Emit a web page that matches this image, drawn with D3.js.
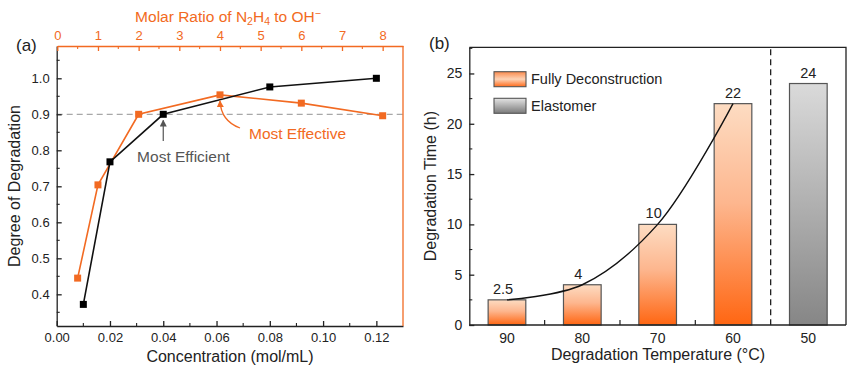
<!DOCTYPE html>
<html><head><meta charset="utf-8">
<script src="https://cdn.jsdelivr.net/npm/d3@7"></script>
<style>
body{margin:0;background:#fff;}
svg{font-family:"Liberation Sans",Arial,sans-serif;}
</style></head>
<body>
<svg id="c" width="860" height="369"></svg>
<script>
// ---- Data panel (a)
const concentration = [0.01, 0.02, 0.04, 0.08, 0.12];
const degreeByConc = [0.372, 0.768, 0.900, 0.976, 1.0];
const molarRatio = [0.5, 1, 2, 4, 6, 8];
const degreeByRatio = [0.445, 0.704, 0.900, 0.954, 0.931, 0.896];
const concTicks = [0, 0.02, 0.04, 0.06, 0.08, 0.10, 0.12];
const ratioTicks = [0, 1, 2, 3, 4, 5, 6, 7, 8];
const degreeTicks = [0.4, 0.5, 0.6, 0.7, 0.8, 0.9, 1.0];
const thresholdLine = 0.9;
// ---- Data panel (b)
const temperatures = ["90", "80", "70", "60", "50"];
const times = [2.5, 4, 10, 22, 24];
const barType = ["Fully Deconstruction", "Fully Deconstruction", "Fully Deconstruction", "Fully Deconstruction", "Elastomer"];
const legendItems = ["Fully Deconstruction", "Elastomer"];
const timeTicks = [0, 5, 10, 15, 20, 25];

const ORANGE = "#f26a22";
const svg = d3.select("#c");

// gradients
const defs = svg.append("defs");
function grad(id, stops){
  const g = defs.append("linearGradient").attr("id", id).attr("x1",0).attr("y1",0).attr("x2",0).attr("y2",1);
  stops.forEach(s => g.append("stop").attr("offset", s[0]).attr("stop-color", s[1]));
}
grad("gO", [[0,"#fddcc2"],[0.45,"#fdb68e"],[1,"#ff6612"]]);
grad("gG", [[0,"#dadada"],[1,"#868686"]]);
grad("gOL", [[0,"#fb8a4c"],[0.5,"#fdd3b6"],[1,"#ff6a1a"]]);
grad("gGL", [[0,"#e4e4e4"],[1,"#7a7a7a"]]);

// ================= Panel (a)
const A = {l:56.7, r:403, t:46, b:326};
const x = d3.scaleLinear().domain([0, 0.13]).range([A.l, A.r]);
const xr = d3.scaleLinear().domain([0, 8.5]).range([57.3, A.r]);
const y = d3.scaleLinear().domain([0.312, 1.0897]).range([A.b, A.t]);
const ga = svg.append("g");

// dashed threshold
ga.append("line").attr("x1", A.l).attr("x2", A.r).attr("y1", y(thresholdLine)).attr("y2", y(thresholdLine))
  .attr("stroke", "#a8a8a8").attr("stroke-width", 1.3).attr("stroke-dasharray", "6,4");

// axes
const fontTick = "13px";
const axB = ga.append("g").attr("transform", `translate(0,${A.b})`)
  .call(d3.axisBottom(x).tickValues(concTicks).tickFormat(d3.format(".2f")).tickSizeInner(-5).tickSizeOuter(0).tickPadding(7));
const axL = ga.append("g").attr("transform", `translate(${A.l},0)`)
  .call(d3.axisLeft(y).tickValues(degreeTicks).tickFormat(d3.format(".1f")).tickSizeInner(-5).tickSizeOuter(0).tickPadding(7));
const axT = ga.append("g").attr("transform", `translate(0,${A.t})`)
  .call(d3.axisTop(xr).tickValues(ratioTicks).tickFormat(d3.format("d")).tickSizeInner(-5).tickSizeOuter(0).tickPadding(6));
[axB, axL].forEach(a => { a.selectAll("path,line").attr("stroke", "#222").attr("stroke-width", 1.3); a.selectAll("text").attr("font-size", fontTick).attr("fill", "#222"); });
axT.selectAll("path,line").attr("stroke", ORANGE).attr("stroke-width", 1.3);
axT.selectAll("text").attr("font-size", fontTick).attr("fill", ORANGE);
// right border
ga.append("line").attr("x1", A.r).attr("x2", A.r).attr("y1", A.t).attr("y2", A.b).attr("stroke", ORANGE).attr("stroke-width", 1.3);
// minor ticks
const minorConc = d3.range(0.01, 0.13, 0.02);
ga.selectAll(".mb").data(minorConc).join("line").attr("x1", d => x(d)).attr("x2", d => x(d)).attr("y1", A.b).attr("y2", A.b - 3).attr("stroke", "#222").attr("stroke-width", 1.1);
const minorDeg = [0.35, 0.45, 0.55, 0.65, 0.75, 0.85, 0.95, 1.05];
ga.selectAll(".ml").data(minorDeg).join("line").attr("y1", d => y(d)).attr("y2", d => y(d)).attr("x1", A.l).attr("x2", A.l + 3).attr("stroke", "#222").attr("stroke-width", 1.1);
const minorRatio = d3.range(0.5, 8.5, 1);
ga.selectAll(".mt").data(minorRatio).join("line").attr("x1", d => xr(d)).attr("x2", d => xr(d)).attr("y1", A.t).attr("y2", A.t + 3).attr("stroke", ORANGE).attr("stroke-width", 1.1);

// series lines
const ptsConc = concentration.map((c, i) => [x(c), y(degreeByConc[i])]);
const ptsRatio = molarRatio.map((r, i) => [xr(r), y(degreeByRatio[i])]);
const line = d3.line();
ga.append("path").attr("d", line(ptsRatio)).attr("fill", "none").attr("stroke", ORANGE).attr("stroke-width", 1.6);
ga.append("path").attr("d", line(ptsConc)).attr("fill", "none").attr("stroke", "#111").attr("stroke-width", 1.6);
const ms = 7;
ga.selectAll(".po").data(ptsRatio).join("rect").attr("x", d => d[0] - ms/2).attr("y", d => d[1] - ms/2).attr("width", ms).attr("height", ms).attr("fill", ORANGE);
ga.selectAll(".pk").data(ptsConc).join("rect").attr("x", d => d[0] - ms/2).attr("y", d => d[1] - ms/2).attr("width", ms).attr("height", ms).attr("fill", "#000");

// annotations
defs.append("marker").attr("id", "arG").attr("viewBox", "0 0 10 10").attr("refX", 9).attr("refY", 5)
  .attr("markerWidth", 7).attr("markerHeight", 7).attr("markerUnits", "userSpaceOnUse").attr("orient", "auto")
  .append("path").attr("d", "M0,0 L10,5 L0,10 z").attr("fill", "#555");
defs.append("marker").attr("id", "arO").attr("viewBox", "0 0 10 10").attr("refX", 9).attr("refY", 5)
  .attr("markerWidth", 7).attr("markerHeight", 7).attr("markerUnits", "userSpaceOnUse").attr("orient", "auto")
  .append("path").attr("d", "M0,0 L10,5 L0,10 z").attr("fill", ORANGE);
const effX = x(concentration[2]);
ga.append("line").attr("x1", effX).attr("x2", effX).attr("y1", 141).attr("y2", y(0.9) + 6)
  .attr("stroke", "#555").attr("stroke-width", 1.2).attr("marker-end", "url(#arG)");
ga.append("text").attr("x", 183.5).attr("y", 161.5).attr("text-anchor", "middle").attr("font-size", "15.5px").attr("fill", "#555").text("Most Efficient");
const bestX = xr(molarRatio[3]);
ga.append("path").attr("d", `M240,128 Q${bestX + 1},121 ${bestX},${y(0.954) + 6}`).attr("fill", "none")
  .attr("stroke", ORANGE).attr("stroke-width", 1.3).attr("marker-end", "url(#arO)");
ga.append("text").attr("x", 297.5).attr("y", 138.5).attr("text-anchor", "middle").attr("font-size", "15.5px").attr("fill", ORANGE).text("Most Effective");

// titles
ga.append("text").attr("x", 230).attr("y", 362).attr("text-anchor", "middle").attr("font-size", "16px").attr("fill", "#222").text("Concentration (mol/mL)");
ga.append("text").attr("transform", `translate(20,${(A.t + A.b) / 2}) rotate(-90)`).attr("text-anchor", "middle").attr("font-size", "16px").attr("fill", "#222").text("Degree of Degradation");
const tt = ga.append("text").attr("x", 228).attr("y", 22).attr("text-anchor", "middle").attr("font-size", "15.5px").attr("fill", ORANGE);
tt.append("tspan").text("Molar Ratio of N");
tt.append("tspan").attr("font-size", "10.5px").attr("dy", 3).text("2");
tt.append("tspan").attr("dy", -3).text("H");
tt.append("tspan").attr("font-size", "10.5px").attr("dy", 3).text("4");
tt.append("tspan").attr("dy", -3).text(" to OH");
tt.append("tspan").attr("font-size", "10.5px").attr("dy", -5).text("\u2212");
ga.append("text").attr("x", 16).attr("y", 51).attr("font-size", "17px").attr("fill", "#222").text("(a)");

// ================= Panel (b)
const B = {l:469.3, r:846, t:47.3, b:325};
const xb = d3.scaleBand().domain(temperatures).range([B.l, B.r]).paddingInner(0.5).paddingOuter(0.25);
const yb = d3.scaleLinear().domain([0, 27.6]).range([B.b, B.t]);
const gb = svg.append("g");

// bars
gb.selectAll(".bar").data(temperatures).join("rect")
  .attr("x", d => xb(d)).attr("width", xb.bandwidth())
  .attr("y", (d, i) => yb(times[i])).attr("height", (d, i) => yb(0) - yb(times[i]))
  .attr("fill", (d, i) => barType[i] === "Elastomer" ? "url(#gG)" : "url(#gO)")
  .attr("stroke", "#555").attr("stroke-width", 1.2);

// separator
const sepX = (xb(temperatures[3]) + xb.bandwidth() / 2 + xb(temperatures[4]) + xb.bandwidth() / 2) / 2;
gb.append("line").attr("x1", sepX).attr("x2", sepX).attr("y1", B.t + 2).attr("y2", B.b)
  .attr("stroke", "#222").attr("stroke-width", 1.3).attr("stroke-dasharray", "6,4");

// trend curve
const trend = temperatures.slice(0, 4).map((t, i) => [xb(t) + xb.bandwidth() / 2, yb(times[i])]);
gb.append("path").attr("d", d3.line().curve(d3.curveCatmullRom.alpha(0.5))(trend)).attr("fill", "none").attr("stroke", "#111").attr("stroke-width", 1.4);

// value labels
gb.selectAll(".vl").data(temperatures).join("text")
  .attr("x", (d, i) => xb(d) + xb.bandwidth() / 2 - (i < 3 ? 4 : 0))
  .attr("y", (d, i) => yb(times[i]) - 6)
  .attr("text-anchor", "middle").attr("font-size", "14.5px").attr("fill", "#222")
  .text((d, i) => times[i]);

// axes
const axBb = gb.append("g").attr("transform", `translate(0,${B.b})`)
  .call(d3.axisBottom(xb).tickSize(0).tickPadding(8));
const axLb = gb.append("g").attr("transform", `translate(${B.l},0)`)
  .call(d3.axisLeft(yb).tickValues(timeTicks).tickSizeInner(-5).tickSizeOuter(0).tickPadding(7));
[axBb, axLb].forEach(a => { a.selectAll("path,line").attr("stroke", "#222").attr("stroke-width", 1.3); a.selectAll("text").attr("font-size", "14px").attr("fill", "#222"); });
axBb.select(".domain").attr("d", `M${B.l},0H${B.r}`);
// frame top/right
gb.append("path").attr("d", `M${B.l},${B.t}H${B.r}V${B.b}`).attr("fill", "none").attr("stroke", "#222").attr("stroke-width", 1.3);
// minor ticks
const boundaries = temperatures.slice(0, 3).map((t, i) => (xb(t) + xb(temperatures[i + 1]) + xb.bandwidth()) / 2);
gb.selectAll(".bt").data(boundaries).join("line").attr("x1", d => d).attr("x2", d => d).attr("y1", B.b).attr("y2", B.b - 5).attr("stroke", "#222").attr("stroke-width", 1.2);
const minorTime = [2.5, 7.5, 12.5, 17.5, 22.5, 27.5].filter(v => v <= 27.6);
gb.selectAll(".mtm").data(minorTime).join("line").attr("y1", d => yb(d)).attr("y2", d => yb(d)).attr("x1", B.l).attr("x2", B.l + 3).attr("stroke", "#222").attr("stroke-width", 1.1);

// legend
const lg = gb.append("g");
legendItems.forEach((name, i) => {
  const yy = 71.7 + i * 26.6;
  lg.append("rect").attr("x", 494).attr("y", yy).attr("width", 32).attr("height", 15)
    .attr("fill", name === "Elastomer" ? "url(#gGL)" : "url(#gOL)").attr("stroke", "#555").attr("stroke-width", 1.1);
  lg.append("text").attr("x", 531).attr("y", yy + 12.5).attr("font-size", "14.5px").attr("fill", "#222").text(name);
});

// titles
gb.append("text").attr("x", 658).attr("y", 360).attr("text-anchor", "middle").attr("font-size", "16px").attr("fill", "#222").text("Degradation Temperature (\u00B0C)");
gb.append("text").attr("transform", `translate(436,${(B.t + B.b) / 2}) rotate(-90)`).attr("text-anchor", "middle").attr("font-size", "16px").attr("fill", "#222").text("Degradation Time (h)");
gb.append("text").attr("x", 429).attr("y", 49).attr("font-size", "17px").attr("fill", "#222").text("(b)");
</script>
</body></html>
